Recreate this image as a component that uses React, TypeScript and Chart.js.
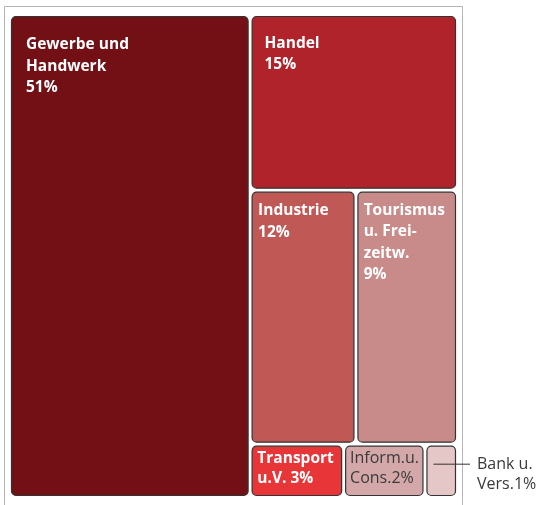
import React, { useEffect, useRef } from "react";
import { Chart, registerables } from "chart.js";

Chart.register(...registerables);

// ---- data ----
const sectors = [
  "Gewerbe und Handwerk",
  "Handel",
  "Industrie",
  "Tourismus u. Freizeitw.",
  "Transport u.V.",
  "Inform.u. Cons.",
  "Bank u. Vers.",
];
const shareLabels = ["51%", "15%", "12%", "9%", "3%", "2%", "1%"];
// relative cell areas as drawn in the picture
const cellSizes = [53.6, 16.8, 12.4, 11.9, 2.3, 2.0, 0.8];
const cellLabelLines = [
  ["Gewerbe und", "Handwerk", "51%"],
  ["Handel", "15%"],
  ["Industrie", "12%"],
  ["Tourismus", "u. Frei-", "zeitw.", "9%"],
  ["Transport", "u.V. 3%"],
  ["Inform.u.", "Cons.2%"],
  [],
];
const outsideLabelLines = [[], [], [], [], [], [], ["Bank u.", "Vers.1%"]];
// arrangement: one full-height column, then stacked rows
const leftColumn = [0];
const rightRows = [[1], [2, 3], [4, 5, 6]];

// ---- styles ----
const cellColors = ["#731016", "#b0232a", "#c05856", "#c98a8a", "#e83538", "#d4a8a9", "#e5c7c8"];
const labelBold = [true, true, true, true, true, false, false];
const labelColors = ["#ffffff", "#ffffff", "#ffffff", "#ffffff", "#ffffff", "#3a3a3a", "#3a3a3a"];
const FONT = '"Open Sans", sans-serif';

type Cell = { i: number; x0: number; x1: number; y0: number; y1: number };

function layoutCells(): Cell[] {
  const total = cellSizes.reduce((a, b) => a + b, 0);
  const leftSum = leftColumn.reduce((a, i) => a + cellSizes[i], 0);
  const leftW = (leftSum / total) * 100;
  const cells: Cell[] = [];
  let y = 0;
  leftColumn.forEach((i) => {
    const h = (cellSizes[i] / leftSum) * 100;
    cells.push({ i, x0: 0, x1: leftW, y0: y, y1: y + h });
    y += h;
  });
  const rightSum = total - leftSum;
  y = 0;
  rightRows.forEach((row) => {
    const rowSum = row.reduce((a, i) => a + cellSizes[i], 0);
    const h = (rowSum / rightSum) * 100;
    let x = leftW;
    row.forEach((i) => {
      const w = (cellSizes[i] / rowSum) * (100 - leftW);
      cells.push({ i, x0: x, x1: x + w, y0: y, y1: y + h });
      x += w;
    });
    y += h;
  });
  return cells;
}

const treemapPlugin = {
  id: "treemapCells",
  beforeDraw(chart: any) {
    const ctx = chart.ctx;
    ctx.save();
    ctx.strokeStyle = "#b5b5b5";
    ctx.lineWidth = 1;
    ctx.beginPath();
    ctx.moveTo(4.5, 520);
    ctx.lineTo(4.5, 6.5);
    ctx.lineTo(462.5, 6.5);
    ctx.lineTo(462.5, 520);
    ctx.stroke();
    ctx.restore();
  },
  afterDatasetsDraw(chart: any) {
    const ctx = chart.ctx;
    const xs = chart.scales.x;
    const ys = chart.scales.y;
    const gap = 1.5;
    const cells = layoutCells();
    ctx.save();
    cells.forEach((c) => {
      const left = xs.getPixelForValue(c.x0) + gap;
      const right = xs.getPixelForValue(c.x1) - gap;
      const top = ys.getPixelForValue(c.y0) + gap;
      const bottom = ys.getPixelForValue(c.y1) - gap;
      const w = right - left;
      const h = bottom - top;
      ctx.beginPath();
      ctx.roundRect(left + 0.5, top + 0.5, w - 1, h - 1, 4.5);
      ctx.fillStyle = cellColors[c.i];
      ctx.fill();
      ctx.lineWidth = 1.2;
      ctx.strokeStyle = "#333333";
      ctx.stroke();

      const lines = cellLabelLines[c.i];
      if (lines.length) {
        const size = labelBold[c.i] ? 15.5 : 16;
        ctx.font = `${labelBold[c.i] ? "bold " : ""}${size}px ${FONT}`;
        ctx.fillStyle = labelColors[c.i];
        ctx.textAlign = "left";
        ctx.textBaseline = "alphabetic";
        const maxW = Math.max(...lines.map((l) => ctx.measureText(l).width));
        let padX = Math.min(15, w * 0.063);
        if (padX + maxW > w - 3) padX = Math.max(2, (w - maxW) / 2);
        const padTop = Math.min(22, Math.min(w, h) * 0.12);
        const lineH = h < 80 ? 20 : 21.5;
        const cap = size * 0.72;
        lines.forEach((l, k) => {
          ctx.fillText(l, left + padX, top + padTop + cap + k * lineH);
        });
      }
      const outside = outsideLabelLines[c.i];
      if (outside.length) {
        const ly = top + 18;
        ctx.beginPath();
        ctx.moveTo(left + 7, ly + 0.5);
        ctx.lineTo(right + 14, ly + 0.5);
        ctx.strokeStyle = "#333333";
        ctx.lineWidth = 1;
        ctx.stroke();
        ctx.font = `16px ${FONT}`;
        ctx.fillStyle = "#3a3a3a";
        ctx.textAlign = "left";
        ctx.textBaseline = "alphabetic";
        outside.forEach((l, k) => {
          ctx.fillText(l, right + 21, ly + 5.5 + k * 20);
        });
      }
    });
    ctx.restore();
  },
};

export default function App() {
  const ref = useRef<HTMLCanvasElement | null>(null);
  useEffect(() => {
    if (!ref.current) return;
    const chart = new Chart(ref.current, {
      type: "scatter",
      data: {
        datasets: [
          {
            label: "Anteile",
            data: sectors.map((_, i) => ({ x: 0, y: 0, v: shareLabels[i] })) as any,
            pointRadius: 0,
            pointHoverRadius: 0,
          },
        ],
      },
      options: {
        responsive: false,
        animation: false,
        layout: { padding: { left: 9.5, top: 14.5, right: 82.5, bottom: 7.5 } },
        scales: {
          x: { type: "linear", min: 0, max: 100, display: false },
          y: { type: "linear", min: 0, max: 100, reverse: true, display: false },
        },
        plugins: { legend: { display: false }, tooltip: { enabled: false } },
      },
      plugins: [treemapPlugin],
    });
    return () => chart.destroy();
  }, []);
  return (
    <div style={{ position: "absolute", left: 0, top: 0, width: 540, height: 505, background: "#fff" }}>
      <canvas ref={ref} width={540} height={505} style={{ display: "block" }} />
    </div>
  );
}
